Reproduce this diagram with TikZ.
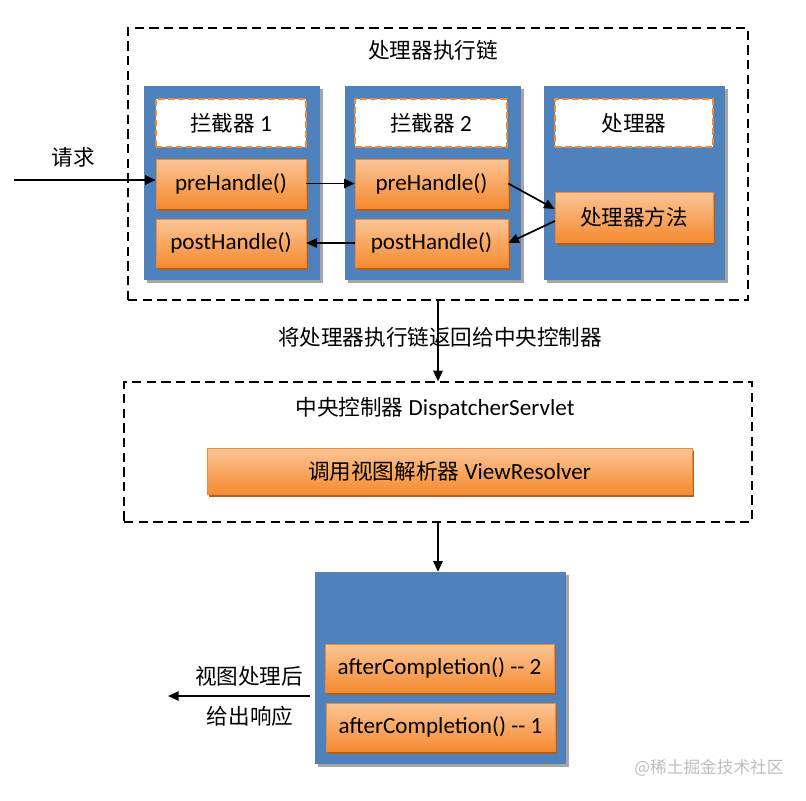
\documentclass[tikz,border=0pt]{standalone}
\usepackage{fontspec}
\setmainfont{Carlito}[Scale=1.07]
\newfontfamily\cjk{Noto Sans CJK SC}
\usetikzlibrary{arrows.meta,shadows,calc}
\definecolor{blueback}{HTML}{4F81BD}
\definecolor{orgtop}{HTML}{FBC596}
\definecolor{orgbot}{HTML}{F58A30}
\definecolor{orgline}{HTML}{EE8A35}
\definecolor{orgshadow}{HTML}{B35F14}
\definecolor{markgray}{HTML}{BDBDBD}

\begin{document}
\begin{tikzpicture}[x=0.75pt,y=-0.75pt,font=\fontsize{16.2}{19}\selectfont,
    chainbox/.style={draw,dash pattern=on 7pt off 4pt,line width=0.9pt,inner sep=0pt},
    colbox/.style={fill=blueback,inner sep=0pt,minimum height=145.5pt,drop shadow={shadow xshift=2pt,shadow yshift=-2pt,fill=black!35,opacity=1}},
    namebox/.style={draw=orgbot,fill=white,dash pattern=on 5pt off 2.5pt,line width=1.4pt,inner sep=0pt,minimum height=36pt},
    callbox/.style={draw=orgline,top color=orgtop,bottom color=orgbot,inner sep=0pt,minimum height=36.5pt,drop shadow={shadow xshift=1.5pt,shadow yshift=-2pt,fill=orgshadow,opacity=1}},
    arr/.style={-{Triangle[length=8pt,width=7pt]},line width=1.3pt}]
        \useasboundingbox (0,0) rectangle (806,800);

        \node[chainbox,minimum width=465pt,minimum height=204pt](chain)at(438,164){};
        \node(chaintitle)at(433,50){\cjk 处理器执行链};

        \node[colbox,minimum width=132pt](col1)at(232,183){};
        \node[colbox,minimum width=132pt](col2)at(433,183){};
        \node[colbox,minimum width=135.75pt](col3)at(634.5,183){};

        \node[namebox,minimum width=113pt](icpt1)at(231,123){{\cjk 拦截器} 1};
        \node[namebox,minimum width=114pt](icpt2)at(431,123){{\cjk 拦截器} 2};
        \node[namebox,minimum width=118.5pt](hdlr)at(634,123){\cjk 处理器};

        \node[callbox,minimum width=112.5pt](pre1)at(231,183.5){preHandle()};
        \node[callbox,minimum width=112.5pt,minimum height=36pt](post1)at(231,243){postHandle()};
        \node[callbox,minimum width=114.75pt](pre2)at(431.5,183.5){preHandle()};
        \node[callbox,minimum width=114.75pt,minimum height=36pt](post2)at(431.5,243){postHandle()};
        \node[callbox,minimum width=118.5pt,minimum height=37.5pt](method)at(634,217){\cjk 处理器方法};

        \coordinate(req)at(14,180);
        \node(reqlabel)at(73,157){\cjk 请求};
        \draw[arr](req)--(req-|pre1.west);
        \draw[arr](pre1.east)--(pre2.west);
        \draw[arr](pre2.east)--([yshift=6pt]method.west);
        \draw[arr]([yshift=-3pt]method.west)--(post2.east);
        \draw[arr](post2.west)--(post1.east);

        \node[chainbox,minimum width=471pt,minimum height=105pt](disp)at(438,452){};
        \node(disptitle)at(435,408){{\cjk 中央控制器} DispatcherServlet};
        \node[callbox,minimum width=363.75pt,minimum height=34.5pt](resolver)at(449.5,471){{\cjk 调用视图解析器} ViewResolver};

        \draw[arr](chain.south)--(disp.north);
        \node(backlabel)at(440,337){\cjk 将处理器执行链返回给中央控制器};

        \node[colbox,minimum width=188.25pt,minimum height=144pt](final)at(440.5,668){};
        \node[callbox,minimum width=171.75pt,minimum height=36pt](after2)at(439.5,668){afterCompletion() -{}- 2};
        \node[callbox,minimum width=171.75pt,minimum height=36pt](after1)at(440.5,727){afterCompletion() -{}- 1};

        \draw[arr](disp.south)--(disp.south|-final.north);

        \coordinate(out)at(310,696);
        \coordinate(resp)at(168,696);
        \draw[arr](out)--(resp);
        \node(resplabel1)at(249,676){\cjk 视图处理后};
        \node(resplabel2)at(250,716){\cjk 给出响应};

        \node[text=markgray,font=\fontsize{12.5}{15}\selectfont](mark)at(709,768){\cjk @稀土掘金技术社区};
    \end{tikzpicture}
\end{document}
